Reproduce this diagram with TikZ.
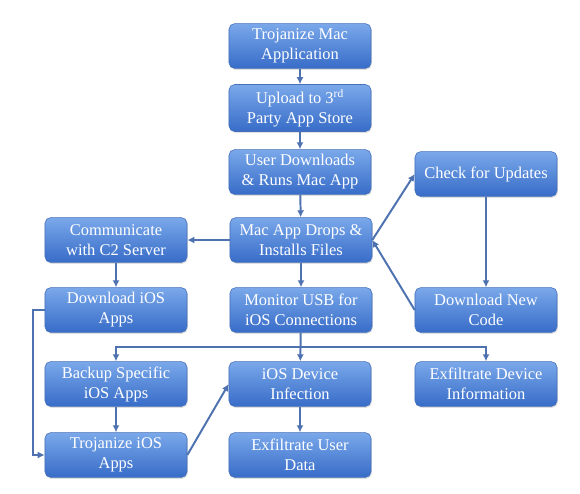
\documentclass[tikz,border=0pt]{standalone}
\usepackage{fontspec}
\setmainfont{Liberation Serif}
\usepackage{tikz}
\usetikzlibrary{arrows.meta, positioning, shadows, calc}
\definecolor{flowTop}{RGB}{122, 168, 234}
\definecolor{flowBottom}{RGB}{55, 108, 200}
\definecolor{flowEdge}{RGB}{70, 112, 185}
\definecolor{flowLine}{RGB}{78, 114, 176}

\begin{document}
\begin{tikzpicture}[
      x=0.025cm, y=-0.025cm,
      box/.style = {
        draw=flowEdge, rounded corners=4pt,
        top color=flowTop, bottom color=flowBottom,
        drop shadow={opacity=0.25, shadow xshift=0.6pt, shadow yshift=-1pt},
        minimum width=3.55cm, minimum height=1.12cm,
        align=center, text=white, font=\fontsize{11.7}{14.2}\selectfont
      },
      arrow/.style = {-{Latex[length=5pt, width=5pt]}, line width=1.4pt, draw=flowLine},
    ]
    \useasboundingbox (0,0) rectangle (580,494);
    %% -- Nodes --------------------------------------------------
    \node (trojMac) [box] at (300,46) {Trojanize Mac\\Application};
    \node (upload)  [box] at (300,108) {Upload to 3\textsuperscript{rd}\\Party App Store};
    \node (userDl)  [box] at (300,172) {User Downloads\\\& Runs Mac App};
    \node (drops)   [box] at (301,240) {Mac App Drops \&\\Installs Files};
    \node (c2)      [box] at (116,240) {Communicate\\with C2 Server};
    \node (dlIOS)   [box] at (116,310) {Download iOS\\Apps};
    \node (monitor) [box] at (301,310) {Monitor USB for\\iOS Connections};
    \node (check)   [box] at (486,174) {Check for Updates};
    \node (dlNew)   [box] at (486,310) {Download New\\Code};
    \node (backup)  [box] at (116,384) {Backup Specific\\iOS Apps};
    \node (iosInf)  [box] at (300,384) {iOS Device\\Infection};
    \node (exDev)   [box] at (486,384) {Exfiltrate Device\\Information};
    \node (trojIOS) [box] at (116,455) {Trojanize iOS\\Apps};
    \node (exUser)  [box] at (300,455) {Exfiltrate User\\Data};
    \coordinate (split) at (monitor.south |- 0,347);
    %% -- Arrows -------------------------------------------------
    \draw[arrow] (trojMac) -- (upload);
    \draw[arrow] (upload) -- (userDl);
    \draw[arrow] (userDl) -- (drops);
    \draw[arrow] (drops) -- (monitor);
    \draw[arrow] (drops) -- (c2);
    \draw[arrow] (c2) -- (dlIOS);
    \draw[arrow] (drops.east) -- (check.west);
    \draw[arrow] (check) -- (dlNew);
    \draw[arrow] (dlNew.west) -- (drops.east);
    %% -- Fan out from USB monitor -------------------------------
    \draw[arrow] (monitor) -- (iosInf);
    \draw[arrow] (split) -| (backup);
    \draw[arrow] (split) -| (exDev);
    \draw[arrow] (iosInf) -- (exUser);
    %% -- Loop round the iOS apps --------------------------------
    \draw[arrow] (dlIOS.west) -- ++(-12,0) |- (trojIOS.west);
    \draw[arrow] (backup) -- (trojIOS);
    \draw[arrow] (trojIOS.east) -- (iosInf.west);
  \end{tikzpicture}
\end{document}
